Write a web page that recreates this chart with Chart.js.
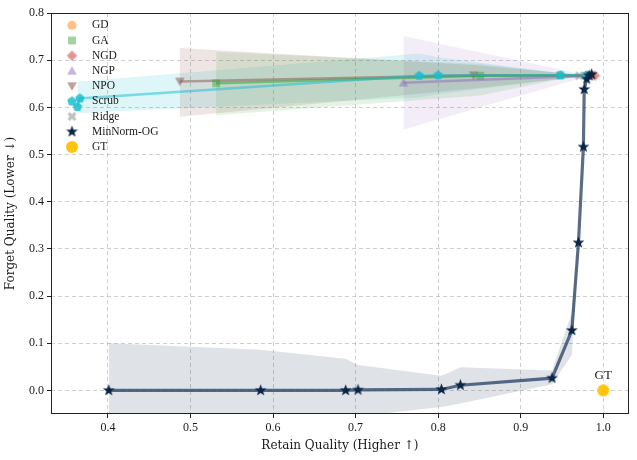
<!DOCTYPE html>
<html>
<head>
<meta charset="utf-8">
<script src="https://cdn.jsdelivr.net/npm/chart.js@4.4.0/dist/chart.umd.min.js"></script>
<style>
  html, body { margin: 0; padding: 0; background: #fff; }
</style>
</head>
<body>
<canvas id="c" width="637" height="460"></canvas>
<script>
// ---- data ----
const xTicks = [0.4, 0.5, 0.6, 0.7, 0.8, 0.9, 1.0];
const yTicks = [0.0, 0.1, 0.2, 0.3, 0.4, 0.5, 0.6, 0.7, 0.8];

const gdX = [0.986];
const gdY = [0.668];

const gaX = [0.531, 0.851, 0.948, 0.982];
const gaY = [0.651, 0.667, 0.668, 0.668];
const gaHi = [0.718, 0.692, 0.673, 0.668];
const gaLo = [0.583, 0.625, 0.660, 0.667];

const ngdX = [0.990];
const ngdY = [0.667];

const ngpX = [0.758, 0.981];
const ngpY = [0.652, 0.667];
const ngpHi = [0.751, 0.668];
const ngpLo = [0.553, 0.666];

const npoX = [0.487, 0.843, 0.980];
const npoY = [0.655, 0.668, 0.667];
const npoHi = [0.726, 0.690, 0.668];
const npoLo = [0.580, 0.640, 0.666];

const scrubX = [0.363, 0.366, 0.777, 0.800, 0.948, 0.980];
const scrubY = [0.601, 0.619, 0.667, 0.668, 0.668, 0.668];
const scrubHi = [0.652, 0.655, 0.714, 0.706, 0.673, 0.668];
const scrubLo = [0.586, 0.588, 0.621, 0.628, 0.660, 0.667];

const ridgeX = [0.971];
const ridgeY = [0.667];

const ogX = [0.401, 0.585, 0.688, 0.703, 0.804, 0.827, 0.938, 0.962, 0.970, 0.976, 0.977, 0.980, 0.983, 0.986];
const ogY = [0.000, 0.000, 0.000, 0.001, 0.002, 0.011, 0.026, 0.127, 0.313, 0.516, 0.638, 0.660, 0.667, 0.670];
const ogHi = [0.100, 0.086, 0.067, 0.054, 0.031, 0.049, 0.042, 0.165, 0.318, 0.520, 0.641, 0.662, 0.668, 0.671];
const ogLo = [-0.06, -0.06, -0.06, -0.055, -0.035, -0.028, 0.013, 0.075, 0.308, 0.512, 0.635, 0.658, 0.666, 0.669];

const gtX = [1.0];
const gtY = [0.0];

const legendNames = ['GD', 'GA', 'NGD', 'NGP', 'NPO', 'Scrub', 'Ridge', 'MinNorm-OG', 'GT'];

// ---- helpers ----
function pts(xs, ys) {
  return xs.map((x, i) => ({ x: x, y: ys[i] }));
}

function poly(ctx, c, list) {
  ctx.beginPath();
  list.forEach((p, i) => i ? ctx.lineTo(c + p[0], c + p[1]) : ctx.moveTo(c + p[0], c + p[1]));
  ctx.closePath();
  ctx.fill();
}

// matplotlib-like filled markers drawn into small canvases
function marker(shape, r, fill) {
  const size = Math.ceil(r * 2 + 4);
  const cv = document.createElement('canvas');
  cv.width = size;
  cv.height = size;
  const ctx = cv.getContext('2d');
  const c = size / 2;
  ctx.fillStyle = fill;
  if (shape === 'circle') {
    ctx.beginPath();
    ctx.arc(c, c, r, 0, Math.PI * 2);
    ctx.fill();
  } else if (shape === 'square') {
    ctx.fillRect(c - r * 0.85, c - r * 0.85, r * 1.7, r * 1.7);
  } else if (shape === 'diamond') {
    poly(ctx, c, [[0, -r], [r, 0], [0, r], [-r, 0]]);
  } else if (shape === 'triUp') {
    poly(ctx, c, [[0, -r], [r, r * 0.8], [-r, r * 0.8]]);
  } else if (shape === 'triDown') {
    poly(ctx, c, [[0, r], [r, -r * 0.8], [-r, -r * 0.8]]);
  } else if (shape === 'pentagon') {
    const list = [];
    for (let k = 0; k < 5; k++) {
      const a = -Math.PI / 2 + k * 2 * Math.PI / 5;
      list.push([r * Math.cos(a), r * Math.sin(a)]);
    }
    poly(ctx, c, list);
  } else if (shape === 'star') {
    const list = [];
    for (let k = 0; k < 10; k++) {
      const a = -Math.PI / 2 + k * Math.PI / 5;
      const rr = k % 2 ? r * 0.42 : r;
      list.push([rr * Math.cos(a), rr * Math.sin(a)]);
    }
    poly(ctx, c, list);
  } else if (shape === 'x') {
    const w = r * 0.33;
    const base = [[w, r], [w, w], [r, w], [r, -w], [w, -w], [w, -r],
                  [-w, -r], [-w, -w], [-r, -w], [-r, w], [-w, w], [-w, r]];
    const ca = Math.cos(Math.PI / 4), sa = Math.sin(Math.PI / 4);
    poly(ctx, c, base.map(p => [p[0] * ca - p[1] * sa, p[0] * sa + p[1] * ca]));
  }
  return cv;
}

const markers = {
  'GD': marker('circle', 4.6, 'rgba(255,127,14,0.5)'),
  'GA': marker('square', 4.6, 'rgba(44,160,44,0.45)'),
  'NGD': marker('diamond', 5.2, 'rgba(214,39,40,0.5)'),
  'NGP': marker('triUp', 4.8, 'rgba(148,103,189,0.5)'),
  'NPO': marker('triDown', 4.8, 'rgba(140,86,75,0.55)'),
  'Scrub': marker('pentagon', 5, 'rgba(23,190,207,0.85)'),
  'Ridge': marker('x', 4.8, 'rgba(127,127,127,0.5)'),
  'MinNorm-OG': marker('star', 6.2, '#0b2547'),
  'GT': marker('circle', 6, '#ffc40c')
};

function band(hiData, loData, color) {
  return [
    { data: hiData, fill: '+1', backgroundColor: color, borderWidth: 0, borderColor: 'rgba(0,0,0,0)',
      pointRadius: 0, showLine: true, order: 50 },
    { data: loData, fill: false, borderWidth: 0, borderColor: 'rgba(0,0,0,0)',
      pointRadius: 0, showLine: true, order: 50 }
  ];
}

function series(name, data, lineColor, width, order, showLine) {
  return {
    label: name, data: data, showLine: showLine, borderColor: lineColor, borderWidth: width,
    pointStyle: markers[name], pointRadius: 5, fill: false, order: order
  };
}

const datasets = [].concat(
  band(pts(npoX, npoHi), pts(npoX, npoLo), 'rgba(140,86,75,0.15)'),
  band(pts(gaX, gaHi), pts(gaX, gaLo), 'rgba(44,160,44,0.13)'),
  band(pts(ngpX, ngpHi), pts(ngpX, ngpLo), 'rgba(148,103,189,0.12)'),
  band(pts(scrubX, scrubHi), pts(scrubX, scrubLo), 'rgba(23,190,207,0.14)'),
  band(pts(ogX, ogHi), pts(ogX, ogLo), 'rgba(40,70,100,0.15)'),
  [
    series('NPO', pts(npoX, npoY), 'rgba(140,86,75,0.5)', 2.5, 20, true),
    series('GA', pts(gaX, gaY), 'rgba(44,160,44,0.5)', 2.5, 19, true),
    series('NGP', pts(ngpX, ngpY), 'rgba(148,103,189,0.5)', 2.5, 18, true),
    series('Scrub', pts(scrubX, scrubY), 'rgba(23,190,207,0.5)', 2.5, 17, true),
    series('Ridge', pts(ridgeX, ridgeY), 'rgba(127,127,127,0.5)', 2, 16, false),
    series('GD', pts(gdX, gdY), 'rgba(255,127,14,0.5)', 2, 15, false),
    series('NGD', pts(ngdX, ngdY), 'rgba(214,39,40,0.5)', 2, 14, false),
    series('MinNorm-OG', pts(ogX, ogY), 'rgba(35,62,95,0.75)', 3.2, 2, true),
    series('GT', pts(gtX, gtY), '#ffc40c', 0, 1, false)
  ]
);

const FONT = '"Liberation Serif", "DejaVu Serif", serif';
const TITLE_FONT = '"DejaVu Serif", serif';

const framePlugin = {
  id: 'frame',
  afterDatasetsDraw(chart) {
    const a = chart.chartArea;
    const ctx = chart.ctx;
    ctx.save();
    ctx.strokeStyle = '#222';
    ctx.lineWidth = 1;
    ctx.strokeRect(Math.round(a.left) + 0.5, Math.round(a.top) + 0.5,
                   Math.round(a.right - a.left) - 1, Math.round(a.bottom - a.top) - 1);
    ctx.restore();
  }
};

const legendPlugin = {
  id: 'insideLegend',
  afterDraw(chart) {
    const a = chart.chartArea;
    const ctx = chart.ctx;
    ctx.save();
    ctx.font = '11.5px ' + FONT;
    ctx.fillStyle = '#1a1a1a';
    ctx.textBaseline = 'middle';
    legendNames.forEach((name, i) => {
      const y = a.top + 12.3 + i * 15.2;
      const img = markers[name];
      ctx.drawImage(img, a.left + 21 - img.width / 2, y - img.height / 2);
      ctx.fillText(name, a.left + 41, y);
    });
    // GT annotation
    const gx = chart.scales.x.getPixelForValue(gtX[0]);
    const gy = chart.scales.y.getPixelForValue(gtY[0]);
    ctx.font = '13px ' + FONT;
    ctx.textAlign = 'center';
    ctx.fillText('GT', gx, gy - 15);
    ctx.restore();
  }
};

new Chart(document.getElementById('c'), {
  type: 'line',
  data: { datasets: datasets },
  options: {
    responsive: false,
    animation: false,
    events: [],
    layout: { padding: { top: 13, right: 8, left: 0, bottom: 0 } },
    elements: { line: { tension: 0 } },
    plugins: {
      legend: { display: false },
      tooltip: { enabled: false }
    },
    scales: {
      x: {
        type: 'linear',
        min: 0.331,
        max: 1.031,
        afterBuildTicks: s => { s.ticks = xTicks.map(v => ({ value: v })); },
        afterFit: s => { s.height = 46; },
        ticks: {
          callback: v => v.toFixed(1),
          color: '#1a1a1a',
          font: { family: FONT, size: 12 },
          padding: 3,
          maxRotation: 0
        },
        grid: { color: 'rgba(160,160,160,0.5)', tickColor: '#222', tickLength: 4, tickBorderDash: [] },
        border: { display: false, dash: [4, 3] },
        title: {
          display: true,
          text: 'Retain Quality (Higher ↑)',
          color: '#1a1a1a',
          font: { family: TITLE_FONT, size: 12 },
          padding: { top: 0, bottom: 7 }
        }
      },
      y: {
        min: -0.05,
        max: 0.8,
        afterBuildTicks: s => { s.ticks = yTicks.map(v => ({ value: v })); },
        afterFit: s => { s.width = 51; },
        ticks: {
          callback: v => v.toFixed(1),
          color: '#1a1a1a',
          font: { family: FONT, size: 12 },
          padding: 3
        },
        grid: { color: 'rgba(160,160,160,0.5)', tickColor: '#222', tickLength: 4, tickBorderDash: [] },
        border: { display: false, dash: [4, 3] },
        title: {
          display: true,
          text: 'Forget Quality (Lower ↓)',
          color: '#1a1a1a',
          font: { family: TITLE_FONT, size: 12 },
          padding: { top: 4, bottom: 0 }
        }
      }
    }
  },
  plugins: [framePlugin, legendPlugin]
});
</script>
</body>
</html>
